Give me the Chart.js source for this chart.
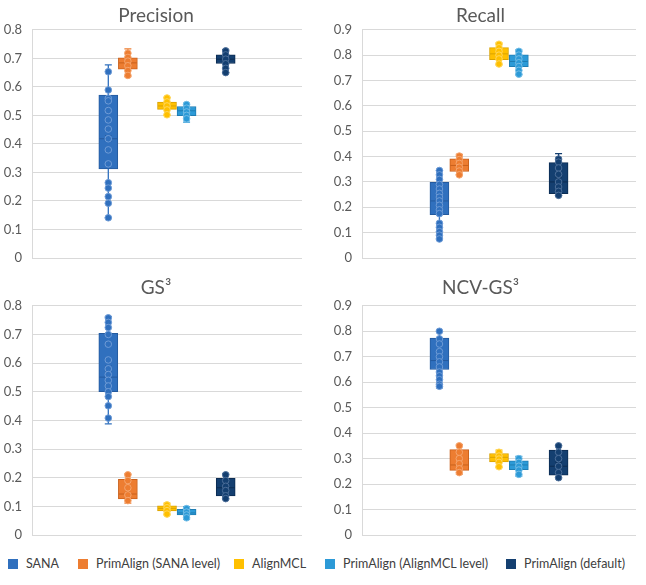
<!DOCTYPE html>
<html>
<head>
<meta charset="utf-8">
<script src="https://cdn.jsdelivr.net/npm/chart.js@4.4.1/dist/chart.umd.min.js"></script>
<style>
    body { margin: 0; background: #fff; font-family: Lato, sans-serif; }
    #page { position: relative; width: 646px; height: 585px; overflow: hidden; }
    .panel { position: absolute; }
    .key { position: absolute; top: 559px; width: 10px; height: 10px; }
    .label { position: absolute; top: 556px; font-size: 12.5px; color: #404040; white-space: nowrap; line-height: 16px; }
</style>
</head>
<body>
<div id="page">
    <div class="panel" style="left:0;top:0;width:312px;height:270px"><canvas id="precisionChart"></canvas></div>
    <div class="panel" style="left:323px;top:0;width:323px;height:270px"><canvas id="recallChart"></canvas></div>
    <div class="panel" style="left:0;top:270px;width:312px;height:280px"><canvas id="gs3Chart"></canvas></div>
    <div class="panel" style="left:323px;top:270px;width:323px;height:280px"><canvas id="ncvChart"></canvas></div>
    <div id="legend"></div>
</div>
<script>
const seriesNames = ['SANA', 'PrimAlign (SANA level)', 'AlignMCL', 'PrimAlign (AlignMCL level)', 'PrimAlign (default)'];
// slot of each box inside the group (3 and 6 are empty in the original)
const seriesSlots = [1, 2, 4, 5, 7];
const seriesColors = ['#3070BE', '#ED7D31', '#FFC000', '#2C9AD7', '#143F70'];
const seriesEdges = ['#245A9E', '#C9611C', '#D9A200', '#1F7DB3', '#0C2C52'];
const seriesRings = ['#6E9BD6', '#F5A56E', '#FFD75E', '#74BDE6', '#4C6E99'];

// [min, q1, median, q3, max, mean] for each series
const precisionStats = [
    [0.141, 0.312, 0.418, 0.571, 0.677, 0.420],
    [0.636, 0.662, 0.684, 0.702, 0.733, 0.683],
    [0.500, 0.521, 0.533, 0.547, 0.563, 0.533],
    [0.476, 0.499, 0.516, 0.531, 0.542, 0.515],
    [0.649, 0.682, 0.697, 0.712, 0.730, 0.696]
];
const precisionPoints = [
    [0.653, 0.589, 0.560, 0.551, 0.517, 0.484, 0.452, 0.418, 0.379, 0.330, 0.264, 0.245, 0.215, 0.192, 0.141],
    [0.718, 0.703, 0.690, 0.674, 0.657, 0.640],
    [0.561, 0.547, 0.533, 0.519, 0.502],
    [0.538, 0.525, 0.512, 0.500, 0.488],
    [0.726, 0.712, 0.697, 0.681, 0.665, 0.650]
];

const recallStats = [
    [0.075, 0.171, 0.225, 0.298, 0.345, 0.226],
    [0.328, 0.341, 0.365, 0.391, 0.409, 0.366],
    [0.762, 0.782, 0.805, 0.830, 0.848, 0.805],
    [0.722, 0.755, 0.775, 0.801, 0.821, 0.776],
    [0.245, 0.254, 0.300, 0.376, 0.412, 0.308]
];
const recallPoints = [
    [0.345, 0.328, 0.310, 0.290, 0.272, 0.255, 0.240, 0.225, 0.208, 0.190, 0.175, 0.137, 0.121, 0.104, 0.090, 0.075],
    [0.402, 0.388, 0.373, 0.358, 0.343, 0.328],
    [0.843, 0.829, 0.815, 0.800, 0.785, 0.765],
    [0.815, 0.800, 0.785, 0.770, 0.755, 0.740, 0.725],
    [0.390, 0.378, 0.355, 0.330, 0.300, 0.280, 0.263, 0.247]
];

const gs3Stats = [
    [0.388, 0.500, 0.551, 0.704, 0.762, 0.580],
    [0.111, 0.126, 0.143, 0.194, 0.213, 0.157],
    [0.070, 0.084, 0.093, 0.102, 0.111, 0.093],
    [0.055, 0.070, 0.077, 0.090, 0.099, 0.078],
    [0.125, 0.136, 0.165, 0.198, 0.213, 0.168]
];
const gs3Points = [
    [0.758, 0.742, 0.724, 0.700, 0.666, 0.611, 0.580, 0.560, 0.540, 0.520, 0.500, 0.483, 0.451, 0.408],
    [0.210, 0.190, 0.165, 0.140, 0.120],
    [0.105, 0.095, 0.085, 0.073],
    [0.092, 0.080, 0.070, 0.060],
    [0.210, 0.190, 0.170, 0.155, 0.137, 0.127]
];

const ncvStats = [
    [0.578, 0.650, 0.685, 0.773, 0.802, 0.695],
    [0.239, 0.254, 0.275, 0.335, 0.355, 0.290],
    [0.265, 0.287, 0.305, 0.320, 0.333, 0.303],
    [0.231, 0.257, 0.275, 0.291, 0.309, 0.272],
    [0.222, 0.235, 0.270, 0.333, 0.352, 0.275]
];
const ncvPoints = [
    [0.800, 0.770, 0.750, 0.720, 0.700, 0.680, 0.660, 0.640, 0.625, 0.610, 0.592, 0.584],
    [0.350, 0.325, 0.300, 0.280, 0.260, 0.245],
    [0.325, 0.310, 0.298, 0.285, 0.268],
    [0.300, 0.285, 0.270, 0.255, 0.238],
    [0.350, 0.325, 0.300, 0.270, 0.245, 0.225]
];

function boxDatasets(stats, points) {
    const sets = [];
    stats.forEach(function (s, i) {
        const x = seriesSlots[i];
        const color = seriesColors[i];
        const edge = seriesEdges[i];
        // whisker + caps
        sets.push({
            type: 'line', data: [{ x: x, y: s[0] }, { x: x, y: s[4] }],
            borderColor: color, borderWidth: 1.3,
            pointStyle: 'line', pointRadius: 3.5, pointBorderColor: color, pointBorderWidth: 1.3,
            order: 5
        });
        // box
        sets.push({
            type: 'bar', data: [{ x: x, y: [s[1], s[3]] }],
            backgroundColor: color, borderColor: edge, borderWidth: 1,
            borderSkipped: false, barThickness: 19, grouped: false,
            order: 4
        });
        // median
        sets.push({
            type: 'line', showLine: false, data: [{ x: x, y: s[2] }],
            pointStyle: 'line', pointRadius: 9, pointBorderColor: edge, pointBorderWidth: 1,
            order: 3
        });
        // mean
        sets.push({
            type: 'line', showLine: false, data: [{ x: x, y: s[5] }],
            pointStyle: 'crossRot', pointRadius: 4.5, pointBorderColor: edge, pointBorderWidth: 1,
            order: 3
        });
        // data points
        sets.push({
            type: 'line', showLine: false, data: points[i].map(function (v) { return { x: x, y: v }; }),
            pointStyle: 'circle', pointRadius: 3.3,
            pointBackgroundColor: color, pointBorderColor: seriesRings[i], pointBorderWidth: 1,
            order: 1
        });
    });
    return sets;
}

function makePanel(id, title, stats, points, yMax, axisWidth, padRight, titlePad, padBottom) {
    new Chart(document.getElementById(id), {
        type: 'bar',
        data: { datasets: boxDatasets(stats, points) },
        options: {
            responsive: true,
            maintainAspectRatio: false,
            animation: false,
            layout: { padding: { left: 0, right: padRight, top: 0, bottom: padBottom } },
            plugins: {
                legend: { display: false },
                tooltip: { enabled: false },
                title: {
                    display: true, text: title, color: '#595959',
                    font: { family: 'Lato', size: 19, weight: 'normal' },
                    padding: titlePad
                }
            },
            scales: {
                x: { type: 'linear', display: false, offset: false, min: -2.9, max: 10.9 },
                y: {
                    min: 0, max: yMax,
                    ticks: { stepSize: 0.1, color: '#595959', font: { family: 'Lato', size: 13 }, padding: 3 },
                    grid: { color: '#d9d9d9', drawTicks: true, tickLength: 7, tickColor: 'rgba(0,0,0,0)' },
                    border: { display: true, color: '#d9d9d9' },
                    afterFit: function (axis) { axis.width = axisWidth; }
                }
            }
        }
    });
}

makePanel('precisionChart', 'Precision', precisionStats, precisionPoints, 0.8, 32, 0, { top: 4, bottom: 3 }, 12);
makePanel('recallChart', 'Recall', recallStats, recallPoints, 0.9, 39, 8, { top: 4, bottom: 3 }, 12);
makePanel('gs3Chart', 'GS³', gs3Stats, gs3Points, 0.8, 32, 0, { top: 6, bottom: 7 }, 15);
makePanel('ncvChart', 'NCV-GS³', ncvStats, ncvPoints, 0.9, 39, 8, { top: 6, bottom: 7 }, 15);

// legend
const legendKeyX = [8, 78, 234, 325, 506];
const legend = document.getElementById('legend');
seriesNames.forEach(function (name, i) {
    const key = document.createElement('div');
    key.className = 'key';
    key.style.left = legendKeyX[i] + 'px';
    key.style.background = seriesColors[i];
    legend.appendChild(key);
    const label = document.createElement('div');
    label.className = 'label';
    label.style.left = (legendKeyX[i] + 18) + 'px';
    label.textContent = name;
    legend.appendChild(label);
});
</script>
</body>
</html>
